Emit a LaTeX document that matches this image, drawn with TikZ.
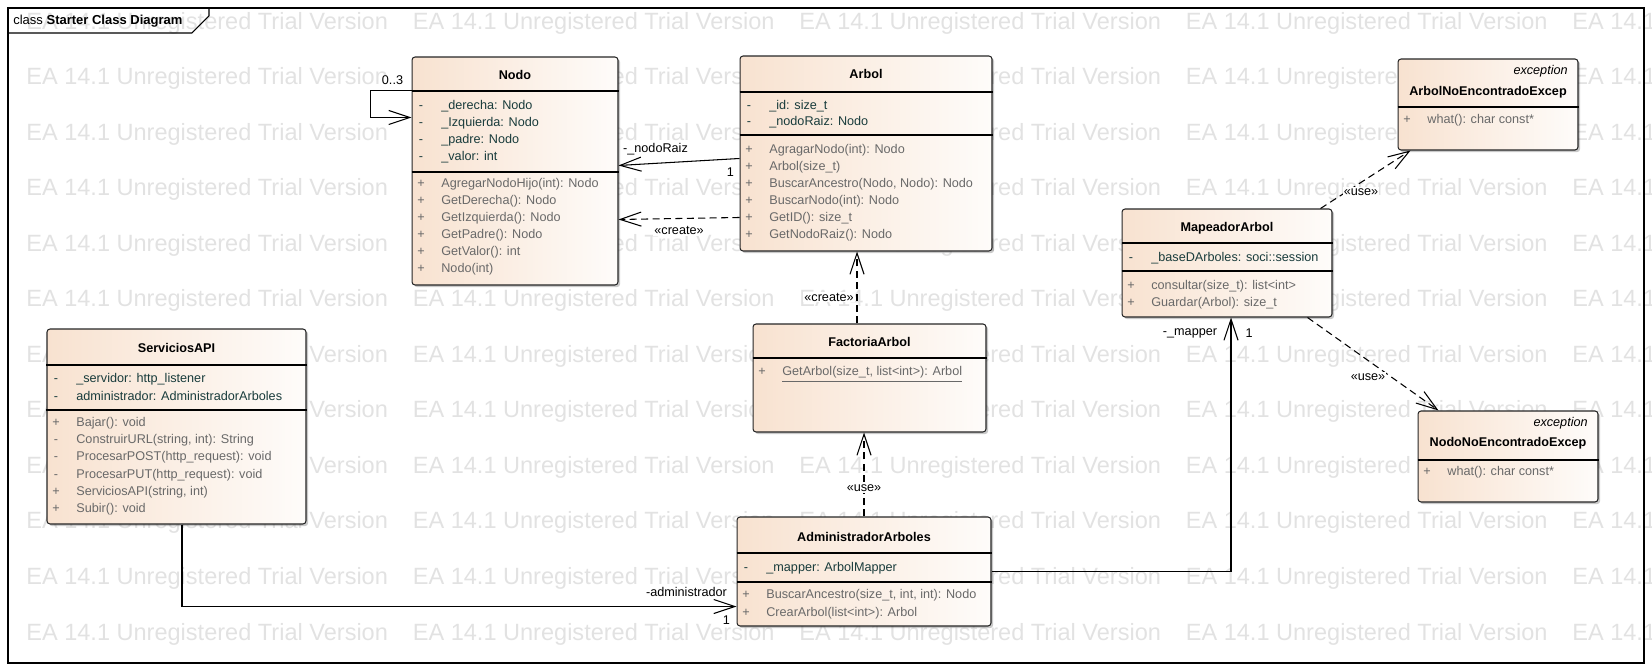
\documentclass[tikz,border=0pt]{standalone}
\usepackage{fontspec}
\setmainfont{Liberation Sans}
\usetikzlibrary{arrows.meta,calc,shadows}

\definecolor{classleft}{RGB}{248,226,208}
\definecolor{classright}{RGB}{254,252,250}
\definecolor{attrcol}{RGB}{25,60,60}
\definecolor{opcol}{RGB}{105,105,105}
\definecolor{wmcol}{RGB}{226,226,226}

\newcommand{\umlfont}{\fontsize{7.2pt}{8.6pt}\selectfont}

\tikzset{
	classbox/.style={draw=black!85, line width=0.6pt, rounded corners=1.7pt, left color=classleft, right color=classright, drop shadow={shadow xshift=1.2pt, shadow yshift=-1.2pt, opacity=0.3, fill=black!70}},
	sepline/.style={draw=black, line width=0.6pt},
	classtitle/.style={anchor=base, inner sep=0pt, font=\umlfont\bfseries},
	stereo/.style={anchor=base east, inner sep=0pt, font=\umlfont\itshape},
	attrvis/.style={anchor=base, inner sep=0pt, text=attrcol, font=\umlfont},
	opvis/.style={anchor=base, inner sep=0pt, text=opcol, font=\umlfont},
	attr/.style={anchor=base west, inner sep=0pt, text=attrcol, font=\umlfont},
	oper/.style={anchor=base west, inner sep=0pt, text=opcol, font=\umlfont},
	conn/.style={line width=0.6pt, -{Straight Barb[length=12pt,width=8pt]}},
	dep/.style={conn, dash pattern=on 4pt off 2.5pt},
	rolelabel/.style={fill=white, inner sep=0.6pt, font=\umlfont},
	watermark/.style={anchor=base west, inner sep=0pt, text=wmcol, font=\fontsize{13.4pt}{14pt}\selectfont},
}

\begin{document}
\begin{tikzpicture}[x=0.02cm, y=-0.02cm]
	
	\useasboundingbox (0,0) rectangle (1652,671);
	
	% watermark
	\begin{scope}
	\clip (0,0) rectangle (1652,671);
	\foreach \row in {0,...,11}
		\foreach \col in {0,...,4}
			\node[watermark] (wm-\row-\col) at (26+386.5*\col, 29.5+55.5*\row) {EA 14.1 Unregistered Trial Version};
	\end{scope}
	
	% frame
	\draw[line width=0.6pt] (8,8) rectangle (1644,663);
	\draw[line width=0.6pt] (8,33) -- (192,33) -- (209,16) -- (209,8);
	\node[anchor=base west, inner sep=0pt, font=\fontsize{7.4pt}{8pt}\selectfont] (frametitle) at (13,25) {class \textbf{Starter Class Diagram}};
	
	% Nodo
	\node[classbox, minimum width=4.12cm, minimum height=4.56cm] (Nodo) at (515,171) {};
	\draw[sepline] (Nodo.west |- 0,91) -- (Nodo.east |- 0,91);
	\draw[sepline] (Nodo.west |- 0,172) -- (Nodo.east |- 0,172);
	\node[classtitle] (nodoT) at (515,79.5) {Nodo};
	\node[attrvis] (nodoV1) at (421,110) {-};
	\node[attr] (nodoA1) at (441,110) {\_derecha: Nodo};
	\node[attrvis] (nodoV2) at (421,127) {-};
	\node[attr] (nodoA2) at (441,127) {\_Izquierda: Nodo};
	\node[attrvis] (nodoV3) at (421,144) {-};
	\node[attr] (nodoA3) at (441,144) {\_padre: Nodo};
	\node[attrvis] (nodoV4) at (421,161) {-};
	\node[attr] (nodoA4) at (441,161) {\_valor: int};
	\node[opvis] (nodoW1) at (421,188) {+};
	\node[oper] (nodoO1) at (441,188) {AgregarNodoHijo(int): Nodo};
	\node[opvis] (nodoW2) at (421,205) {+};
	\node[oper] (nodoO2) at (441,205) {GetDerecha(): Nodo};
	\node[opvis] (nodoW3) at (421,222) {+};
	\node[oper] (nodoO3) at (441,222) {GetIzquierda(): Nodo};
	\node[opvis] (nodoW4) at (421,239) {+};
	\node[oper] (nodoO4) at (441,239) {GetPadre(): Nodo};
	\node[opvis] (nodoW5) at (421,256) {+};
	\node[oper] (nodoO5) at (441,256) {GetValor(): int};
	\node[opvis] (nodoW6) at (421,273) {+};
	\node[oper] (nodoO6) at (441,273) {Nodo(int)};
	
	% Arbol
	\node[classbox, minimum width=5.04cm, minimum height=3.9cm] (Arbol) at (866,153.5) {};
	\draw[sepline] (Arbol.west |- 0,92) -- (Arbol.east |- 0,92);
	\draw[sepline] (Arbol.west |- 0,135) -- (Arbol.east |- 0,135);
	\node[classtitle] (arbolT) at (866,79) {Arbol};
	\node[attrvis] (arbolV1) at (749,110) {-};
	\node[attr] (arbolA1) at (769,110) {\_id: size\_t};
	\node[attrvis] (arbolV2) at (749,126) {-};
	\node[attr] (arbolA2) at (769,126) {\_nodoRaiz: Nodo};
	\node[opvis] (arbolW1) at (749,154) {+};
	\node[oper] (arbolO1) at (769,154) {AgragarNodo(int): Nodo};
	\node[opvis] (arbolW2) at (749,171) {+};
	\node[oper] (arbolO2) at (769,171) {Arbol(size\_t)};
	\node[opvis] (arbolW3) at (749,188) {+};
	\node[oper] (arbolO3) at (769,188) {BuscarAncestro(Nodo, Nodo): Nodo};
	\node[opvis] (arbolW4) at (749,205) {+};
	\node[oper] (arbolO4) at (769,205) {BuscarNodo(int): Nodo};
	\node[opvis] (arbolW5) at (749,222) {+};
	\node[oper] (arbolO5) at (769,222) {GetID(): size\_t};
	\node[opvis] (arbolW6) at (749,239) {+};
	\node[oper] (arbolO6) at (769,239) {GetNodoRaiz(): Nodo};
	
	% FactoriaArbol
	\node[classbox, minimum width=4.66cm, minimum height=2.16cm] (Factoria) at (869.5,378) {};
	\draw[sepline] (Factoria.west |- 0,358) -- (Factoria.east |- 0,358);
	\node[classtitle] (factoriaT) at (869.5,347) {FactoriaArbol};
	\node[opvis] (factoriaW1) at (762,376) {+};
	\node[oper] (factoriaO1) at (782,376) {\underline{GetArbol(size\_t, list<int>): Arbol}};
	
	% AdministradorArboles
	\node[classbox, minimum width=5.08cm, minimum height=2.18cm] (Admin) at (864,571.5) {};
	\draw[sepline] (Admin.west |- 0,553) -- (Admin.east |- 0,553);
	\draw[sepline] (Admin.west |- 0,582) -- (Admin.east |- 0,582);
	\node[classtitle] (adminT) at (864,541) {AdministradorArboles};
	\node[attrvis] (adminV1) at (746,571) {-};
	\node[attr] (adminA1) at (766,571) {\_mapper: ArbolMapper};
	\node[opvis] (adminW1) at (746,598) {+};
	\node[oper] (adminO1) at (766,598) {BuscarAncestro(size\_t, int, int): Nodo};
	\node[opvis] (adminW2) at (746,616) {+};
	\node[oper] (adminO2) at (766,616) {CrearArbol(list<int>): Arbol};
	
	% ServiciosAPI
	\node[classbox, minimum width=5.18cm, minimum height=3.9cm] (Servicios) at (176.5,426.5) {};
	\draw[sepline] (Servicios.west |- 0,365) -- (Servicios.east |- 0,365);
	\draw[sepline] (Servicios.west |- 0,410) -- (Servicios.east |- 0,410);
	\node[classtitle] (serviciosT) at (176.5,353) {ServiciosAPI};
	\node[attrvis] (serviciosV1) at (56,383) {-};
	\node[attr] (serviciosA1) at (76,383) {\_servidor: http\_listener};
	\node[attrvis] (serviciosV2) at (56,401) {-};
	\node[attr] (serviciosA2) at (76,401) {administrador: AdministradorArboles};
	\node[opvis] (serviciosW1) at (56,427) {+};
	\node[oper] (serviciosO1) at (76,427) {Bajar(): void};
	\node[opvis] (serviciosW2) at (56,444) {-};
	\node[oper] (serviciosO2) at (76,444) {ConstruirURL(string, int): String};
	\node[opvis] (serviciosW3) at (56,461) {-};
	\node[oper] (serviciosO3) at (76,461) {ProcesarPOST(http\_request): void};
	\node[opvis] (serviciosW4) at (56,479) {-};
	\node[oper] (serviciosO4) at (76,479) {ProcesarPUT(http\_request): void};
	\node[opvis] (serviciosW5) at (56,496) {+};
	\node[oper] (serviciosO5) at (76,496) {ServiciosAPI(string, int)};
	\node[opvis] (serviciosW6) at (56,513) {+};
	\node[oper] (serviciosO6) at (76,513) {Subir(): void};
	
	% MapeadorArbol
	\node[classbox, minimum width=4.2cm, minimum height=2.16cm] (Mapeador) at (1227,263) {};
	\draw[sepline] (Mapeador.west |- 0,243) -- (Mapeador.east |- 0,243);
	\draw[sepline] (Mapeador.west |- 0,271) -- (Mapeador.east |- 0,271);
	\node[classtitle] (mapeadorT) at (1227,232) {MapeadorArbol};
	\node[attrvis] (mapeadorV1) at (1131,262) {-};
	\node[attr] (mapeadorA1) at (1151,262) {\_baseDArboles: soci::session};
	\node[opvis] (mapeadorW1) at (1131,290) {+};
	\node[oper] (mapeadorO1) at (1151,290) {consultar(size\_t): list<int>};
	\node[opvis] (mapeadorW2) at (1131,307) {+};
	\node[oper] (mapeadorO2) at (1151,307) {Guardar(Arbol): size\_t};
	
	% excepciones
	\node[classbox, minimum width=3.6cm, minimum height=1.82cm] (ArbolNoEnc) at (1488,104.5) {};
	\draw[sepline] (ArbolNoEnc.west |- 0,107) -- (ArbolNoEnc.east |- 0,107);
	\node[stereo] (arbolNoEncS) at (1568,75) {exception};
	\node[classtitle] (arbolNoEncT) at (1488,96) {ArbolNoEncontradoExcep};
	\node[opvis] (arbolNoEncW1) at (1407,124) {+};
	\node[oper] (arbolNoEncO1) at (1427,124) {what(): char const*};
	
	\node[classbox, minimum width=3.6cm, minimum height=1.82cm] (NodoNoEnc) at (1508,456.5) {};
	\draw[sepline] (NodoNoEnc.west |- 0,460) -- (NodoNoEnc.east |- 0,460);
	\node[stereo] (nodoNoEncS) at (1588,427) {exception};
	\node[classtitle] (nodoNoEncT) at (1508,447) {NodoNoEncontradoExcep};
	\node[opvis] (nodoNoEncW1) at (1427,476) {+};
	\node[oper] (nodoNoEncO1) at (1447,476) {what(): char const*};
	
	% relaciones
	\draw[conn] ($(Nodo.north west)+(0,34)$) node[rolelabel, shift={(-19,-10)}] (loopL) {0..3} -- ++(-41,0) |- ($(Nodo.north west)+(0,61)$);
	
	\draw[conn] ($(Arbol.north west)+(0,103)$) node[rolelabel, shift={(-9,14)}] (raizMult) {1} -- ($(Nodo.north east)+(0,109)$) node[rolelabel, pos=1, shift={(37,-16)}] (raizL) {-\_nodoRaiz};
	\draw[dep] ($(Arbol.north west)+(0,162)$) -- ($(Nodo.north east)+(0,163)$) node[rolelabel, midway, shift={(0,12)}] (createL1) {«create»};
	
	\draw[dep] ($(Factoria.north)+(-12.5,0)$) -- ($(Arbol.south)+(-9,0)$) node[rolelabel, midway, shift={(-28,9.5)}] (createL2) {«create»};
	\draw[dep] (Admin.north) -- (Admin.north |- Factoria.south) node[rolelabel, midway, shift={(0,13.5)}] (useL1) {«use»};
	
	\draw[conn] ($(Servicios.south)+(5.5,0)$) |- ($(Admin.south west)+(0,-20)$) node[rolelabel, pos=1, shift={(-50,-15)}] (adminL) {-administrador} node[rolelabel, pos=1, shift={(-10,14)}] (adminMult) {1};
	\draw[conn] (Admin.east) -| ($(Mapeador.south)+(4,0)$) node[rolelabel, pos=1, shift={(-41,16)}] (mapperL) {-\_mapper} node[rolelabel, pos=1, shift={(18,16)}] (mapperMult) {1};
	
	\draw[dep] ($(Mapeador.north east)+(-12,0)$) -- ($(ArbolNoEnc.south west)+(13,0)$) node[rolelabel, midway, shift={(-4.5,12.5)}] (useL2) {«use»};
	\draw[dep] ($(Mapeador.south east)+(-25,0)$) -- ($(NodoNoEnc.north west)+(21,0)$) node[rolelabel, midway, shift={(-5,13)}] (useL3) {«use»};
	
\end{tikzpicture}
\end{document}
